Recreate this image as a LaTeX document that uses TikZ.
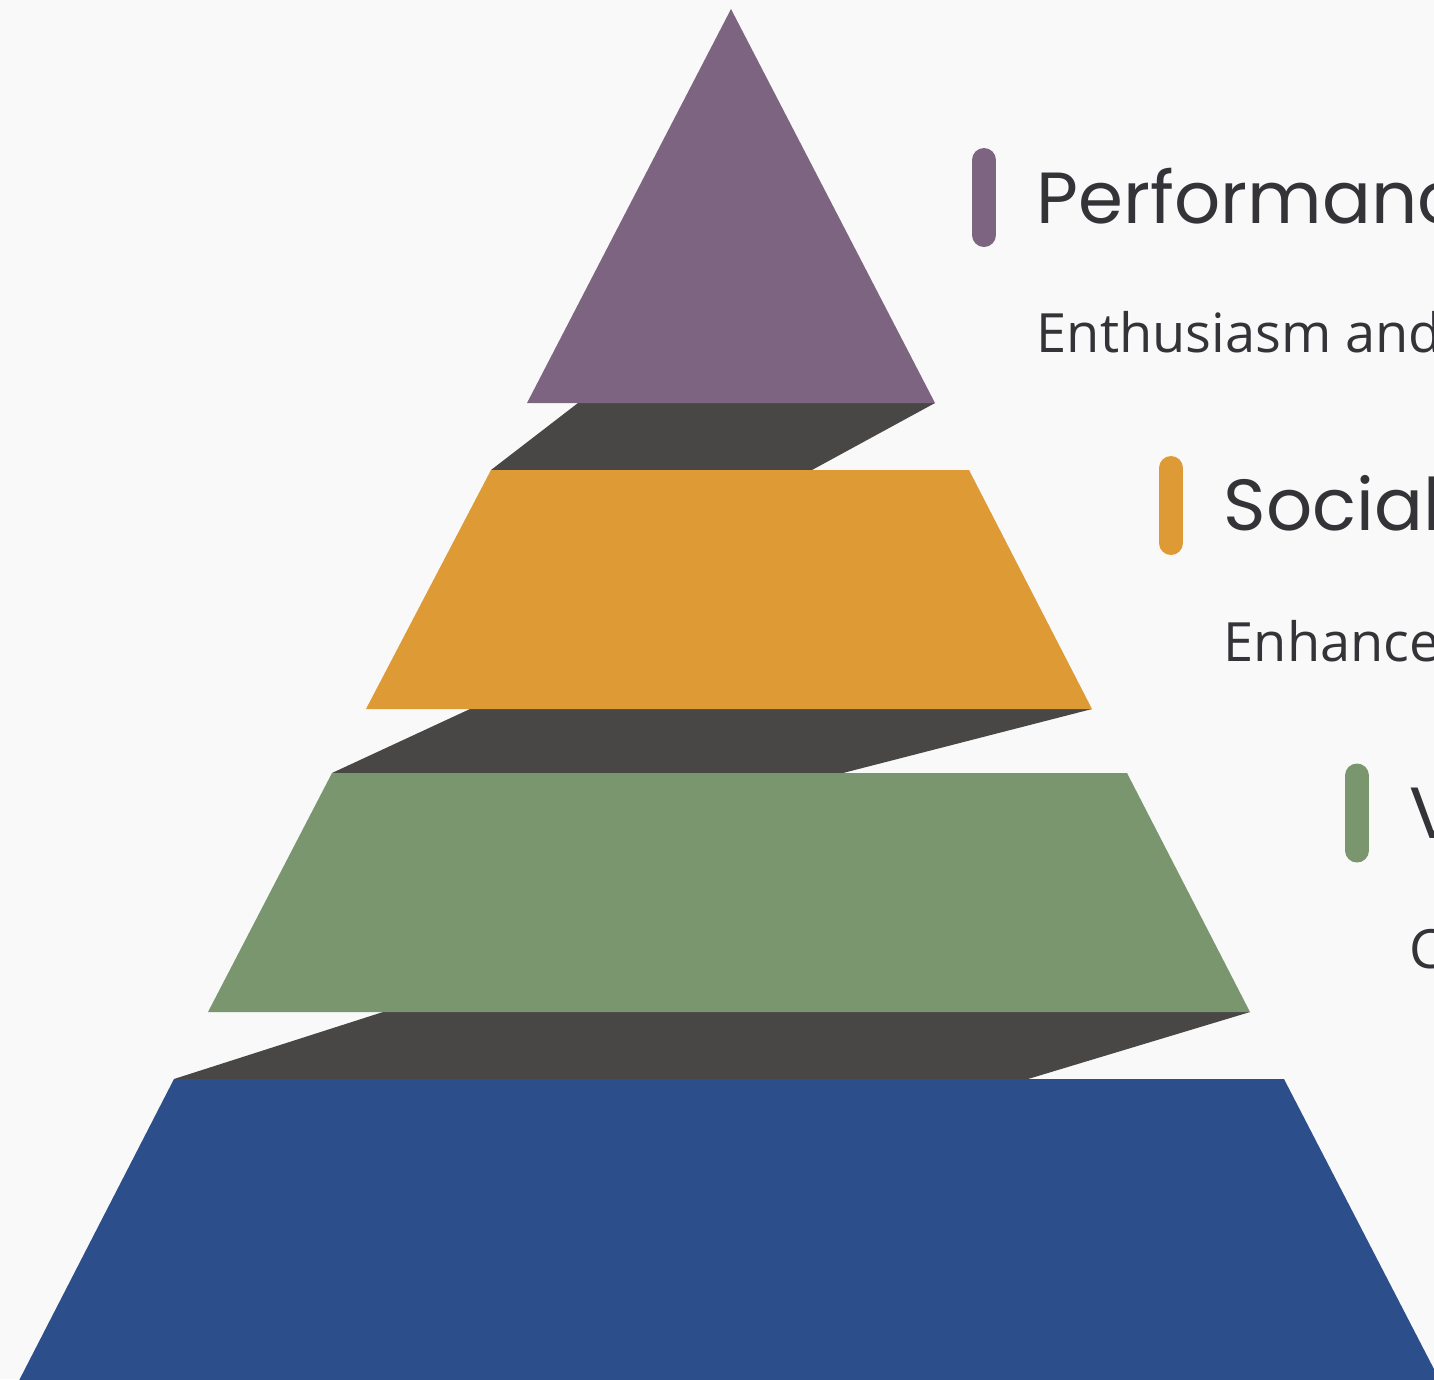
\documentclass[tikz,border=0pt]{standalone}
\usepackage{fontspec}
\setmainfont{Poppins}
\newfontfamily\subfont{Open Sans}
\usetikzlibrary{positioning}

\definecolor{bgc}{HTML}{F9F9F9}
\definecolor{shadowc}{HTML}{484746}
\definecolor{topc}{HTML}{7D6480}
\definecolor{socc}{HTML}{DD9A35}
\definecolor{grnc}{HTML}{79966E}
\definecolor{basec}{HTML}{2C4F8B}
\definecolor{txtc}{HTML}{333338}

\tikzset{
  level/.style={fill=#1, draw=none},
  bar/.style={draw=#1, line width=0.24cm, line cap=round},
  title/.style={anchor=base west, inner sep=0pt, text=txtc, font=\fontsize{20.6}{25}\selectfont},
  sub/.style={anchor=base west, inner sep=0pt, text=txtc, font=\subfont\fontsize{15.4}{19}\selectfont}
}

\begin{document}
\begin{tikzpicture}[x=1cm, y=1cm]
  \useasboundingbox (0,0) rectangle (14.34,-13.79);
  \clip (0,0) rectangle (14.34,-13.79);
  \fill[bgc] (0,0) rectangle (14.34,-13.79);

  % shadows between the levels
  \fill[shadowc] (5.78,-4.03) -- (9.35,-4.03) -- (8.12,-4.70) -- (4.91,-4.70) -- cycle;
  \fill[shadowc] (4.70,-7.09) -- (10.92,-7.09) -- (8.43,-7.73) -- (3.32,-7.73) -- cycle;
  \fill[shadowc] (3.83,-10.12) -- (12.50,-10.12) -- (10.28,-10.79) -- (1.74,-10.79) -- cycle;

  % pyramid levels
  \fill[level=topc] (7.31,-0.09) -- (9.35,-4.03) -- (5.27,-4.03) -- cycle;
  \fill[level=socc] (4.91,-4.70) -- (9.69,-4.70) -- (10.92,-7.09) -- (3.66,-7.09) -- cycle;
  \fill[level=grnc] (3.32,-7.73) -- (11.27,-7.73) -- (12.50,-10.12) -- (2.08,-10.12) -- cycle;
  \fill[level=basec] (1.74,-10.79) -- (12.84,-10.79) -- (14.50,-14.00) -- (0.09,-14.00) -- cycle;

  % labels
  \coordinate (b1) at (9.84,-1.975);
  \coordinate (b2) at (11.71,-5.055);
  \coordinate (b3) at (13.57,-8.13);
  \draw[bar=topc] ([yshift=0.375cm]b1) -- ([yshift=-0.375cm]b1);
  \draw[bar=socc] ([yshift=0.375cm]b2) -- ([yshift=-0.375cm]b2);
  \draw[bar=grnc] ([yshift=0.375cm]b3) -- ([yshift=-0.375cm]b3);

  \node[title] (t1) at (10.36,-2.23) {Performance};
  \node[sub] (s1) at (10.36,-3.52) {Enthusiasm and};
  \node[title] (t2) at (12.23,-5.30) {Social};
  \node[sub] (s2) at (12.23,-6.61) {Enhance};
  \node[title] (t3) at (14.09,-8.38) {V};
  \node[sub] (s3) at (14.09,-9.68) {C};
\end{tikzpicture}
\end{document}
